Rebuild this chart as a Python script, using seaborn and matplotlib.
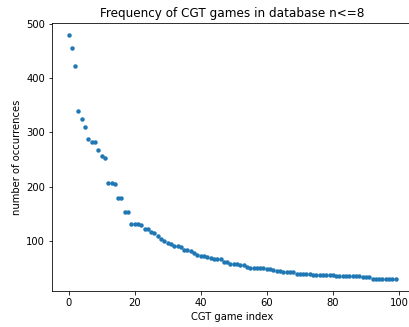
import matplotlib
matplotlib.use("Agg")
import matplotlib.pyplot as plt
import seaborn as sns
import pandas as pd
import numpy as np

counts = [479, 456, 423, 340, 324, 310, 287, 283, 282, 267,
          256, 252, 206, 206, 205, 179, 179, 154, 154, 132,
          131, 131, 129, 123, 123, 117, 115, 110, 103, 100,
          97, 94, 91, 91, 89, 84, 83, 81, 78, 74,
          73, 72, 70, 69, 67, 67, 67, 62, 61, 58,
          57, 57, 56, 55, 52, 51, 51, 51, 51, 51,
          49, 48, 46, 44, 44, 43, 43, 43, 43, 40,
          40, 39, 39, 39, 37, 37, 37, 37, 37, 37,
          37, 35, 35, 35, 35, 35, 35, 35, 35, 33,
          33, 33, 31, 31, 31, 31, 31, 31, 31, 31]
game_index = list(range(len(counts)))

df = pd.DataFrame({"idx": game_index, "count": counts})

W, H = 409, 327
fig = plt.figure(figsize=(W / 72, H / 72), dpi=72)
ax = fig.add_axes([52.2 / W, 1 - 290.7 / H, (412.0 - 52.2) / W, (290.7 - 23) / H])
sns.scatterplot(data=df, x="idx", y="count", ax=ax, s=20, linewidth=0,
                color="#1f77b4")
ax.spines["right"].set_visible(False)
ax.set_title("Frequency of CGT games in database n<=8", fontsize=12)
ax.set_xlabel("CGT game index", fontsize=10)
ax.set_ylabel("number of occurrences", fontsize=10)
ax.set_xticks([0, 20, 40, 60, 80, 100])
ax.set_yticks([100, 200, 300, 400, 500])
ax.tick_params(labelsize=10)
fig.savefig("out.png", dpi=72)
